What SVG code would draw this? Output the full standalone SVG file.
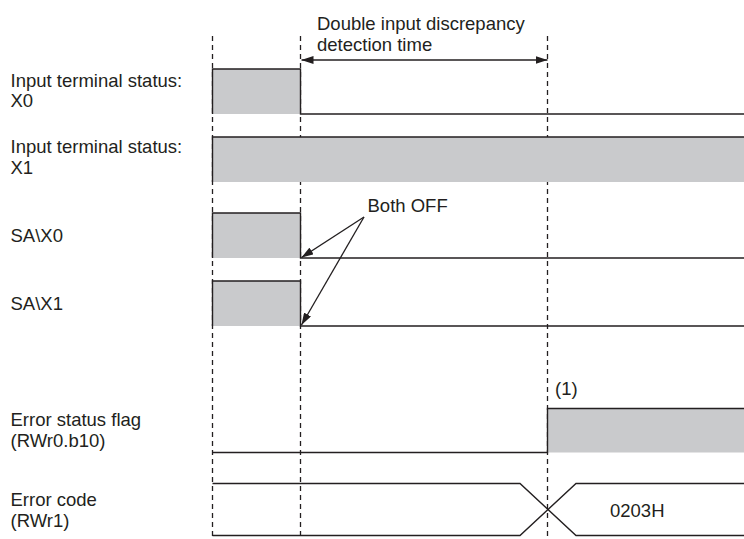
<svg xmlns="http://www.w3.org/2000/svg" width="744" height="539" viewBox="0 0 744 539">
<style>
text{font-family:"Liberation Sans",Arial,sans-serif;font-size:18.5px;fill:#231f20}
.w{fill:none;stroke:#231f20;stroke-width:1.4}
.g{fill:#c9cacc;stroke:none}
.d{fill:none;stroke:#231f20;stroke-width:1.3;stroke-dasharray:5 4}
.a{fill:none;stroke:#231f20;stroke-width:1.3}
</style>
<defs>
<marker id="ah" viewBox="0 0 12 8" refX="12" refY="4" markerWidth="12" markerHeight="8" markerUnits="userSpaceOnUse" orient="auto-start-reverse">
<path d="M0,0 L12,4 L0,8 Z" fill="#231f20"/>
</marker>
</defs>
<g id="guides">
<line class="d" x1="212.5" y1="36" x2="212.5" y2="539"/>
<line class="d" x1="300.5" y1="36" x2="300.5" y2="539"/>
<line class="d" x1="547.5" y1="36" x2="547.5" y2="539"/>
</g>
<g id="timing-label">
<text x="317" y="30">Double input discrepancy</text>
<text x="317" y="51">detection time</text>
</g>
<g id="x0">
<text x="10.5" y="86.5">Input terminal status:</text>
<text x="10.5" y="107">X0</text>
<rect class="g" x="212.5" y="69" width="88" height="45"/>
<path class="w" d="M212.5,114 V69 H300.5 V114 H744"/>
</g>
<g id="x1">
<text x="10.5" y="153">Input terminal status:</text>
<text x="10.5" y="173.5">X1</text>
<rect class="g" x="212.5" y="137" width="531.5" height="45"/>
<path class="w" d="M212.5,182 V137 H744"/>
</g>
<g id="sax0">
<text x="10.5" y="241.5">SA\X0</text>
<rect class="g" x="212.5" y="213" width="88" height="45"/>
<path class="w" d="M212.5,258 V213 H300.5 V258 H744"/>
</g>
<g id="sax1">
<text x="10.5" y="309.5">SA\X1</text>
<rect class="g" x="212.5" y="281" width="88" height="45"/>
<path class="w" d="M212.5,326 V281 H300.5 V326 H744"/>
</g>
<g id="errflag">
<text x="10.5" y="426">Error status flag</text>
<text x="10.5" y="447">(RWr0.b10)</text>
<rect class="g" x="547.5" y="408.5" width="196.5" height="44"/>
<path class="w" d="M212.5,452.5 H547.5 V408.5 H744"/>
<text x="555" y="395">(1)</text>
</g>
<g id="errcode">
<text x="10.5" y="506">Error code</text>
<text x="10.5" y="527">(RWr1)</text>
<path class="w" d="M212.5,483.5 H520 L576,535.5 H744"/>
<path class="w" d="M212.5,535.5 H520 L576,483.5 H744"/>
<text x="610" y="517">0203H</text>
</g>
<g id="bothoff">
<text x="367.5" y="212">Both OFF</text>
</g>
<g id="connectors">
<line class="a" x1="301.5" y1="60" x2="547.5" y2="60" marker-start="url(#ah)" marker-end="url(#ah)"/>
<line class="a" x1="364" y1="217" x2="301.5" y2="257.5" marker-end="url(#ah)"/>
<line class="a" x1="364" y1="217" x2="301.5" y2="325" marker-end="url(#ah)"/>
</g>
</svg>
